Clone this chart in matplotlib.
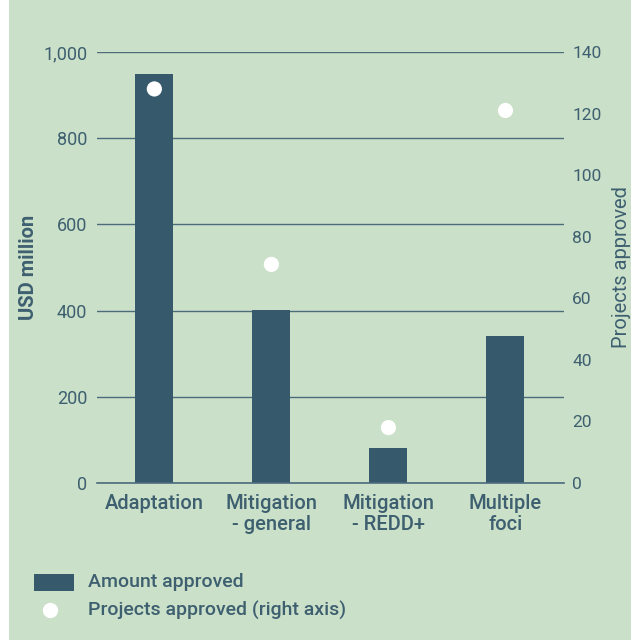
import matplotlib
matplotlib.use("Agg")
import matplotlib.pyplot as plt
from matplotlib.patches import Rectangle
from matplotlib.lines import Line2D
import matplotlib.ticker as mticker

categories = ["Adaptation", "Mitigation\n- general", "Mitigation\n- REDD+", "Multiple\nfoci"]
amount_usd_million = [948, 402, 82, 341]
projects_approved = [128, 71, 18, 121]
left_ticks = [0, 200, 400, 600, 800, 1000]
right_ticks = [0, 20, 40, 60, 80, 100, 120, 140]

BG = "#cbe0c8"
BAR = "#365a6c"
TXT = "#3d5f70"
GRID = "#4c6c7c"
FONT = ["Roboto", "DejaVu Sans"]
plt.rcParams["font.family"] = FONT

fig = plt.figure(figsize=(6.31, 6.40), dpi=100)
fig.patch.set_facecolor(BG)
fig.patches.append(Rectangle((0, 0), 9/631, 1, transform=fig.transFigure,
                             facecolor="white", edgecolor="none", zorder=0))

ax = fig.add_axes([97/631, 1-483/640, 467/631, 431/640])
ax.set_facecolor("none")
x = list(range(len(categories)))
ax.bar(x, amount_usd_million, width=0.325, color=BAR, zorder=2)
ax.set_xlim(-0.49, 3.5)
ax.set_ylim(0, 1000)
ax.set_yticks(left_ticks)
ax.yaxis.set_major_formatter(mticker.FuncFormatter(lambda v, p: f"{int(v):,}"))
ax.set_xticks(x)
ax.set_xticklabels(categories, fontsize=14.5, color=TXT, linespacing=1.12, fontweight="medium")
for s in ax.spines.values():
    s.set_visible(False)
ax.grid(axis="y", color=GRID, linewidth=1, zorder=1)
ax.axhline(0, color=GRID, linewidth=1.2, clip_on=False, zorder=3)
ax.tick_params(axis="y", length=0, pad=7, labelsize=13, labelcolor=TXT)
ax.tick_params(axis="x", length=0, pad=8)
ax.set_ylabel("USD million", fontsize=14.5, color=TXT, fontweight="bold")
ax.yaxis.set_label_coords((38 - 97) / 467, 0.5)

ax2 = ax.twinx()
ax2.set_ylim(0, 140)
ax2.set_yticks(right_ticks)
for s in ax2.spines.values():
    s.set_visible(False)
ax2.tick_params(axis="y", length=0, pad=6, labelsize=12.5, labelcolor=TXT)
ax2.scatter(x, projects_approved, s=120, color="white", zorder=3, edgecolors="none")
ax2.set_ylabel("Projects approved", fontsize=14.5, color=TXT)
ax2.yaxis.set_label_coords((612 - 97) / 467, 0.5)

# legend
fig.patches.append(Rectangle((34/631, 1-591/640), 40/631, 17/640, transform=fig.transFigure,
                             facecolor=BAR, edgecolor="none"))
fig.add_artist(Line2D([50/631], [1-610/640], marker="o", markersize=11,
                      markerfacecolor="white", markeredgecolor="none", linestyle="none",
                      transform=fig.transFigure))
fig.text(88/631, 1-582/640, "Amount approved", fontsize=14, color=TXT, va="center",
         fontweight="medium")
fig.text(88/631, 1-610/640, "Projects approved (right axis)", fontsize=14, color=TXT,
         va="center", fontweight="medium")

fig.savefig("out.png", dpi=100, facecolor=BG)
